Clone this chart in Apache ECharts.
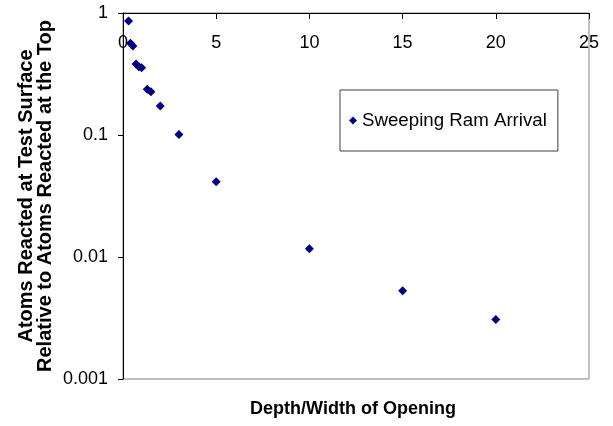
<!DOCTYPE html>
<html>
<head>
<meta charset="utf-8">
<script src="https://cdn.jsdelivr.net/npm/echarts@6/dist/echarts.min.js"></script>
<style>html,body{margin:0;padding:0;background:#fff}#c{width:613px;height:426px}</style>
</head>
<body>
<div id="c"></div>
<script>
var seriesName = 'Sweeping Ram Arrival';
var xValues = [0.3, 0.4, 0.53, 0.7, 0.85, 1.0, 1.3, 1.5, 2, 3, 5, 10, 15, 20];
var yValues = [0.86, 0.565, 0.537, 0.382, 0.363, 0.356, 0.237, 0.226, 0.173, 0.101, 0.0414, 0.0117, 0.0053, 0.00308];
var yTickLabels = ['0.001', '0.01', '0.1', '1'];
var xTitle = 'Depth/Width of Opening';
var yTitle = 'Atoms Reacted at Test Surface\nRelative to Atoms Reacted at the Top';

var FONT = "'Liberation Sans', Arial, sans-serif";
var data = xValues.map(function (x, i) { return [x, yValues[i]]; });

var chart = echarts.init(document.getElementById('c'));
chart.setOption({
  animation: false,
  backgroundColor: '#fff',
  textStyle: { fontFamily: FONT },
  grid: {
    left: 123, right: 24, top: 13, bottom: 47,
    show: true, borderColor: '#808080', borderWidth: 1, backgroundColor: 'transparent'
  },
  xAxis: {
    type: 'value', position: 'top', min: 0, max: 25, interval: 5,
    axisLine: { show: true, lineStyle: { color: '#000', width: 1 } },
    axisTick: { show: true, inside: true, length: 6, lineStyle: { color: '#000' } },
    axisLabel: { inside: true, margin: 21, color: '#000', fontSize: 18, fontFamily: FONT },
    splitLine: { show: false }
  },
  yAxis: {
    type: 'log', logBase: 10, min: 0.001, max: 1,
    axisLine: { show: true, lineStyle: { color: '#000', width: 1 } },
    axisTick: { show: true, length: 5, lineStyle: { color: '#000' } },
    axisLabel: {
      margin: 15, color: '#000', fontSize: 18, fontFamily: FONT,
      formatter: function (v) {
        var idx = Math.round(Math.log10(v)) + 3;
        return yTickLabels[idx] !== undefined ? yTickLabels[idx] : '';
      }
    },
    minorTick: { show: false },
    splitLine: { show: false }
  },
  legend: {
    show: true, left: 340, top: 90,
    orient: 'vertical',
    padding: [21, 11, 21, 9],
    borderColor: '#404040', borderWidth: 1,
    itemWidth: 8, itemHeight: 8, itemGap: 0,
    textStyle: { color: '#000', fontSize: 18.7, fontFamily: FONT, padding: [0, 0, 0, 0] },
    data: [{ name: seriesName, icon: 'diamond', itemStyle: { color: '#000080', opacity: 1 } }]
  },
  graphic: [
    {
      type: 'text', x: 353, y: 409,
      style: { text: xTitle, font: "bold 18px " + FONT, fill: '#000', align: 'center', verticalAlign: 'middle' }
    },
    {
      type: 'text', x: 35.5, y: 196, rotation: Math.PI / 2,
      style: { text: yTitle, font: "bold 20px " + FONT, fill: '#000', align: 'center', verticalAlign: 'middle', lineHeight: 19 }
    }
  ],
  series: [{
    name: seriesName, type: 'scatter', symbol: 'diamond', symbolSize: 9,
    itemStyle: { color: '#000080', opacity: 1 },
    data: data
  }]
});
</script>
</body>
</html>
